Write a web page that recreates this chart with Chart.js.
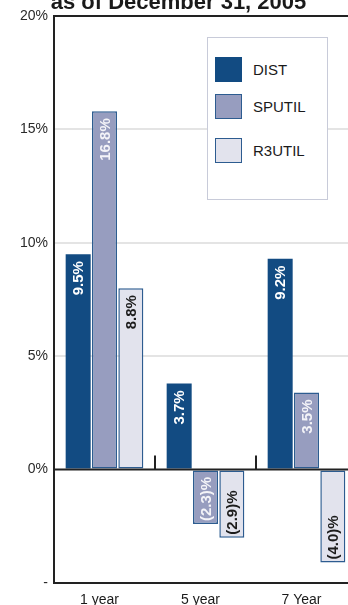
<!DOCTYPE html>
<html>
<head>
<meta charset="utf-8">
<script src="https://cdn.jsdelivr.net/npm/chart.js@4.4.0/dist/chart.umd.min.js"></script>
<style>
  html, body { margin: 0; padding: 0; background: #fff; overflow: hidden; }
  body { width: 348px; height: 605px; position: relative; font-family: "Liberation Sans", Arial, sans-serif; }
  #wrap { position: absolute; left: 0; top: 0; width: 360px; height: 605px; }
  #title { position: absolute; left: 0; top: -9px; width: 357px; text-align: center;
           font-size: 22px; line-height: 22px; font-weight: bold; color: #1a1a1a; white-space: nowrap; }
  #legend { position: absolute; left: 207px; top: 37px; width: 119px; height: 161px;
            border: 1px solid #c8cbd9; background: #fff; }
  .item { position: absolute; left: 7px; height: 25px; }
  .sw { position: absolute; left: 0; top: 0; width: 27px; height: 25px; box-sizing: border-box; }
  .lbl { position: absolute; left: 38px; top: 4px; font-size: 15px; line-height: 17px; color: #1a1a1a; white-space: nowrap; }
</style>
</head>
<body>
<div id="wrap"><canvas id="myChart" width="360" height="605"></canvas></div>
<div id="title">as of December 31, 2005</div>
<div id="legend"></div>
<script>
const categories = ["1 year", "5 year", "7 Year"];
const seriesNames = ["DIST", "SPUTIL", "R3UTIL"];
// bar heights as drawn in the picture
const distValues = [9.5, 3.8, 9.3];
const sputilValues = [15.8, -2.4, 3.4];
const r3utilValues = [8.0, -3.0, -4.1];
// printed labels on the bars
const distLabels = ["9.5%", "3.7%", "9.2%"];
const sputilLabels = ["16.8%", "(2.3)%", "3.5%"];
const r3utilLabels = ["8.8%", "(2.9)%", "(4.0)%"];
const yTickValues = [-5, 0, 5, 10, 15, 20];
const yTickLabels = ["-", "0%", "5%", "10%", "15%", "20%"];

const fills = ["#124b82", "#979dbf", "#e2e3ed"];
const borders = ["#124b82", "#2d5c90", "#2d5c90"];
const labelColors = ["#ffffff", "#f4f4f8", "#1c1c1c"];
const allLabels = [distLabels, sputilLabels, r3utilLabels];

const ctx = document.getElementById("myChart").getContext("2d");

// zero line, category ticks, bar labels
const overlay = {
  id: "overlay",
  afterDatasetsDraw(chart) {
    const c = chart.ctx;
    const area = chart.chartArea;
    const y0 = chart.scales.y.getPixelForValue(0);
    const xs = chart.scales.x;
    c.save();
    c.strokeStyle = "#222";
    c.lineWidth = 2;
    c.beginPath();
    c.moveTo(area.left, y0);
    c.lineTo(area.right, y0);
    for (let i = 1; i < categories.length; i++) {
      const bx = Math.round((xs.getPixelForValue(i - 1) + xs.getPixelForValue(i)) / 2);
      c.moveTo(bx, y0);
      c.lineTo(bx, y0 - 14);
    }
    c.stroke();

    c.font = "bold 15px 'Liberation Sans', Arial, sans-serif";
    c.textBaseline = "middle";
    chart.data.datasets.forEach((ds, di) => {
      const meta = chart.getDatasetMeta(di);
      meta.data.forEach((bar, i) => {
        const v = ds.data[i];
        c.save();
        c.fillStyle = labelColors[di];
        if (v >= 0) {
          c.translate(bar.x + 1, bar.y + 7);
          c.rotate(-Math.PI / 2);
          c.textAlign = "right";
        } else {
          c.translate(bar.x + 1, bar.y - 3);
          c.rotate(-Math.PI / 2);
          c.textAlign = "left";
        }
        c.fillText(allLabels[di][i], 0, 0);
        c.restore();
      });
    });
    c.restore();
  }
};

const myChart = new Chart(ctx, {
  type: "bar",
  data: {
    labels: categories,
    datasets: [
      { label: seriesNames[0], data: distValues },
      { label: seriesNames[1], data: sputilValues },
      { label: seriesNames[2], data: r3utilValues },
    ].map((d, i) => ({
      ...d,
      backgroundColor: fills[i],
      borderColor: borders[i],
      borderWidth: i === 0 ? 0 : 1.5,
      borderSkipped: false,
      categoryPercentage: 0.782,
      barPercentage: 0.95,
    })),
  },
  options: {
    responsive: false,
    animation: false,
    layout: { padding: { left: 0, right: 3, top: 16, bottom: 0 } },
    plugins: {
      legend: { display: false },
      tooltip: { enabled: false },
    },
    scales: {
      x: {
        grid: { display: false, drawTicks: false },
        border: { display: true, color: "#222", width: 2 },
        ticks: {
          color: "#1a1a1a",
          font: { family: "'Liberation Sans', Arial, sans-serif", size: 14 },
          padding: 9,
          labelOffset: -5,
          maxRotation: 0,
        },
        afterFit(scale) { scale.height = 22; },
      },
      y: {
        min: -5,
        max: 20,
        afterBuildTicks(scale) {
          scale.ticks = yTickValues.map((v) => ({ value: v }));
        },
        grid: {
          drawTicks: false,
          lineWidth: 2,
          color(c) {
            const v = c.tick.value;
            if (v === 20) return "#222";
            if (v === 0 || v === -5) return "rgba(0,0,0,0)";
            return "#e4e4e4";
          },
        },
        border: { display: true, color: "#222", width: 2 },
        ticks: {
          color: "#2a2a2a",
          font: { family: "'Liberation Sans', Arial, sans-serif", size: 14 },
          padding: 6,
          callback(value) {
            return yTickLabels[yTickValues.indexOf(value)];
          },
        },
        afterFit(scale) { scale.width = 54; },
      },
    },
  },
  plugins: [overlay],
});

// legend
const legend = document.getElementById("legend");
const itemTops = [19, 56, 100];
seriesNames.forEach((name, i) => {
  const item = document.createElement("div");
  item.className = "item";
  item.style.top = itemTops[i] + "px";
  const border = i === 0 ? "none" : "1.5px solid " + borders[i];
  item.innerHTML = `<div class="sw" style="background:${fills[i]};border:${border}"></div><div class="lbl">${name}</div>`;
  legend.appendChild(item);
});
</script>
</body>
</html>
